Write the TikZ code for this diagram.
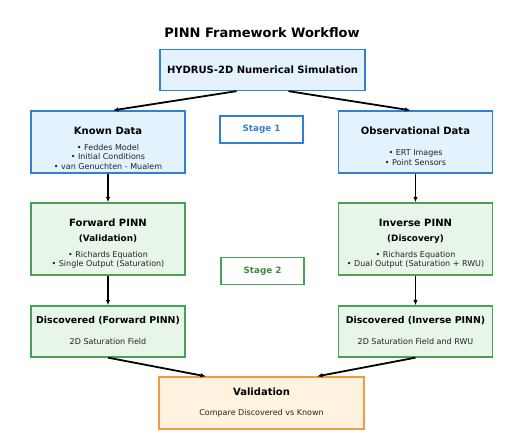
\documentclass[tikz,border=0pt]{standalone}
\usepackage{fontspec}
\setmainfont{DejaVu Sans}
\usepackage{tikz}
\usetikzlibrary{arrows.meta,positioning,calc}
\definecolor{knownblue}{HTML}{2F80D6}
\definecolor{knownfill}{HTML}{E3F2FD}
\definecolor{pinngreen}{HTML}{4CA052}
\definecolor{pinnfill}{HTML}{E8F5E9}
\definecolor{validorange}{HTML}{F39A3D}
\definecolor{validfill}{HTML}{FFF3E0}
\definecolor{bodygrey}{HTML}{222222}

\begin{document}
\begin{tikzpicture}[x=1pt,y=-1pt,
    box/.style={draw, line width=1.3pt, inner sep=0pt, minimum width=154pt},
    bluebox/.style={box, draw=knownblue, fill=knownfill},
    greenbox/.style={box, draw=pinngreen, fill=pinnfill},
    stagebox/.style={draw, line width=1.6pt, fill=white, inner sep=0pt, minimum width=83pt, minimum height=27pt, font=\bfseries\fontsize{8.8}{10}\selectfont},
    head/.style={font=\bfseries\fontsize{10}{12}\selectfont},
    subhead/.style={font=\bfseries\fontsize{8.8}{11}\selectfont},
    body/.style={font=\fontsize{8}{9.3}\selectfont, align=center, inner sep=0pt, text=bodygrey},
    flow/.style={-{Latex[length=5.5pt,width=4.5pt]}, line width=1.8pt}
]
    \useasboundingbox (0,0) rectangle (527,438);
    % Title
    \node[font=\bfseries\fontsize{13}{15}\selectfont] (title) at (262,33) {PINN Framework Workflow};
    % Simulation
    \node[bluebox, minimum width=205pt, minimum height=41pt] (hydrus) at (262.5,70) {};
    \node[head] (hydrustxt) at (262.5,70) {HYDRUS-2D Numerical Simulation};
    % Stage 1: data
    \node[bluebox, minimum height=62pt] (known) at (108,142) {};
    \node[head] (knownhead) at (108,131) {Known Data};
    \node[body] (knownbody) at (108,157) {• Feddes Model\\• Initial Conditions\\• van Genuchten - Mualem};
    \node[bluebox, minimum height=62pt] (obs) at (415.5,142) {};
    \node[head] (obshead) at (415.5,131) {Observational Data};
    \node[body] (obsbody) at (415.5,157.5) {• ERT Images\\• Point Sensors};
    \node[stagebox, draw=knownblue, text=knownblue] (stage1) at (261.5,129.5) {Stage 1};
    % Stage 2: networks
    \node[greenbox, minimum height=72pt] (forward) at (108,239) {};
    \node[head] (forwardhead) at (108,223) {Forward PINN};
    \node[subhead] (forwardsub) at (108,239) {(Validation)};
    \node[body] (forwardbody) at (108,259.5) {• Richards Equation\\• Single Output (Saturation)};
    \node[greenbox, minimum height=72pt] (inverse) at (415.5,239) {};
    \node[head] (inversehead) at (415.5,223) {Inverse PINN};
    \node[subhead] (inversesub) at (415.5,239) {(Discovery)};
    \node[body] (inversebody) at (415.5,259.5) {• Richards Equation\\• Dual Output (Saturation + RWU)};
    \node[stagebox, draw=pinngreen, text=pinngreen!85!black] (stage2) at (262.5,271) {Stage 2};
    % Discovered fields
    \node[greenbox, minimum height=51pt] (discfwd) at (108,331.5) {};
    \node[head, font=\bfseries\fontsize{9.4}{11}\selectfont] (discfwdhead) at (108,321) {Discovered (Forward PINN)};
    \node[body] (discfwdbody) at (108,342) {2D Saturation Field};
    \node[greenbox, minimum height=51pt] (discinv) at (415.5,331.5) {};
    \node[head, font=\bfseries\fontsize{9.4}{11}\selectfont] (discinvhead) at (415.5,321) {Discovered (Inverse PINN)};
    \node[body] (discinvbody) at (415.5,342) {2D Saturation Field and RWU};
    % Validation
    \node[box, draw=validorange, fill=validfill, minimum width=205pt, minimum height=52pt] (valid) at (261.5,403) {};
    \node[head] (validhead) at (261.5,392) {Validation};
    \node[body] (validbody) at (261.5,413) {Compare Discovered vs Known};
    % Connectors
    \draw[flow] ($(hydrus.south)+(-26,0)$) -- ($(known.north)+(5,0)$);
    \draw[flow] ($(hydrus.south)+(26,0)$) -- ($(obs.north)+(-5,0)$);
    \draw[flow] (known.south) -- (forward.north);
    \draw[flow] (obs.south) -- (inverse.north);
    \draw[flow] (forward.south) -- (discfwd.north);
    \draw[flow] (inverse.south) -- (discinv.north);
    \draw[flow] (discfwd.south) -- ($(valid.north)+(-55.5,0)$);
    \draw[flow] (discinv.south) -- ($(valid.north)+(55.5,0)$);
\end{tikzpicture}
\end{document}
